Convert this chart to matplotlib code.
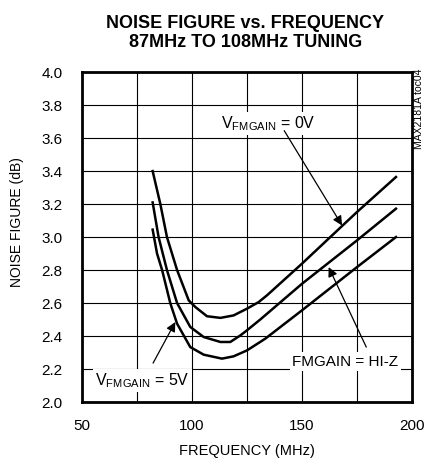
import matplotlib.pyplot as plt

plt.rcParams['font.family'] = ['Liberation Sans', 'DejaVu Sans']
plt.rcParams['mathtext.fontset'] = 'custom'
plt.rcParams['mathtext.rm'] = 'Liberation Sans'

# noise figure curves
freq_0v = [82.1, 85.6, 88.6, 93.2, 98.5, 101.5, 106.8, 112.9, 118.9, 125.0, 130.3, 134.1, 150.0, 167.4, 175.0, 192.7]
nf_0v = [3.40, 3.20, 3.00, 2.80, 2.616, 2.576, 2.52, 2.51, 2.525, 2.566, 2.606, 2.647, 2.839, 3.057, 3.152, 3.364]

freq_hiz = [82.1, 84.8, 88.6, 93.2, 99.2, 105.3, 112.9, 117.4, 122.0, 125.0, 131.0, 150.0, 175.0, 192.7]
nf_hiz = [3.21, 3.00, 2.80, 2.60, 2.455, 2.394, 2.364, 2.364, 2.404, 2.435, 2.50, 2.717, 2.98, 3.172]

freq_5v = [82.1, 84.1, 86.4, 90.1, 93.2, 99.2, 105.3, 113.6, 118.9, 125.0, 133.3, 150.0, 175.0, 192.7]
nf_5v = [3.045, 2.90, 2.80, 2.60, 2.475, 2.333, 2.287, 2.263, 2.277, 2.313, 2.384, 2.556, 2.818, 3.00]

xticks = [50, 100, 150, 200]
yticks = [2.0, 2.2, 2.4, 2.6, 2.8, 3.0, 3.2, 3.4, 3.6, 3.8, 4.0]

fig = plt.figure(figsize=(4.25, 4.66), dpi=100)
ax = fig.add_axes([0.193, 0.1373, 0.7765, 0.708])

for f, nf in [(freq_0v, nf_0v), (freq_hiz, nf_hiz), (freq_5v, nf_5v)]:
    ax.plot(f, nf, color='black', lw=1.8, zorder=3)

ax.set_xlim(50, 200)
ax.set_ylim(2.0, 4.0)
ax.set_xticks(xticks)
ax.set_xticks([75, 125, 175], minor=True)
ax.set_yticks(yticks)
ax.set_yticklabels([f'{v:.1f}' for v in yticks])
ax.grid(True, which='both', color='black', lw=0.8)
ax.tick_params(which='both', length=0, labelsize=11)
ax.tick_params(axis='y', pad=14)
ax.tick_params(axis='x', pad=12)
for s in ax.spines.values():
    s.set_linewidth(2)

ax.set_xlabel('FREQUENCY (MHz)', fontsize=10.5, labelpad=8)
ax.set_ylabel('NOISE FIGURE (dB)', fontsize=10)
ax.yaxis.set_label_coords(-0.177, 0.545)

fig.text(0.577, 0.968, 'NOISE FIGURE vs. FREQUENCY\n87MHz TO 108MHz TUNING',
         ha='center', va='top', fontsize=13, fontweight='bold', linespacing=1.15)

fig.text(0.986, 0.852, 'MAX2181A toc04', rotation=90, ha='center', va='top', fontsize=7.5)

box = dict(facecolor='white', edgecolor='none', pad=1.5)
arrow = dict(arrowstyle='-|>', color='black', lw=0.9, mutation_scale=14, shrinkA=0, shrinkB=0)

# labels
ax.text(134.7, 3.687, r'V$_{\mathrm{FMGAIN}}$ = 0V', ha='center', va='center',
        fontsize=11.5, bbox=box, zorder=4)
ax.text(169.7, 2.245, 'FMGAIN = HI-Z', ha='center', va='center',
        fontsize=11, bbox=box, zorder=4)
ax.text(77.6, 2.131, r'V$_{\mathrm{FMGAIN}}$ = 5V', ha='center', va='center',
        fontsize=11.5, bbox=box, zorder=4)

# arrows
ax.annotate('', xy=(168.2, 3.07), xytext=(141.9, 3.645), arrowprops=arrow, zorder=4)
ax.annotate('', xy=(162.1, 2.818), xytext=(179.2, 2.333), arrowprops=arrow, zorder=4)
ax.annotate('', xy=(92.4, 2.485), xytext=(82.3, 2.236), arrowprops=arrow, zorder=4)

fig.savefig('out.png', dpi=100)
